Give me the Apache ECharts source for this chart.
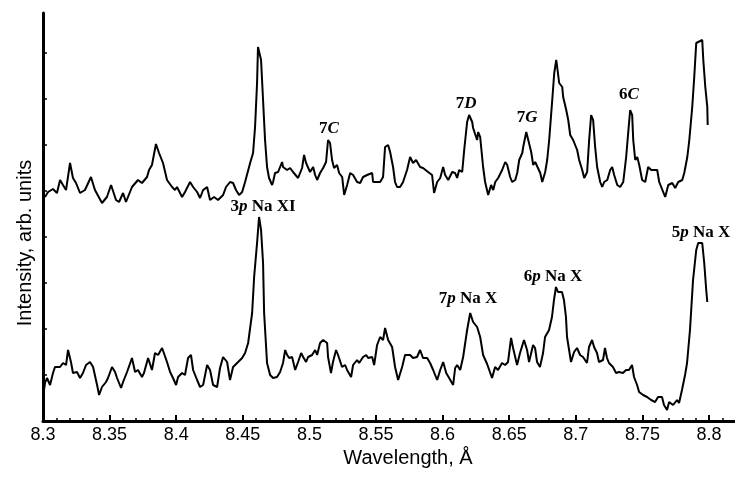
<!DOCTYPE html>
<html>
<head>
<meta charset="utf-8">
<script src="https://cdn.jsdelivr.net/npm/echarts@6/dist/echarts.min.js"></script>
<style>
  html, body { margin: 0; padding: 0; background: #fff; }
  #chart { width: 735px; height: 479px; }
</style>
</head>
<body>
<div id="chart"></div>
<script>
// upper spectrum (wavelength in Å, intensity in arb. units)
const topWavelength = [
  8.3015,8.3038,8.3075,8.3105,8.3128,8.3150,8.3173,8.3203,8.3225,8.3248,
  8.3278,8.3315,8.3360,8.3390,8.3443,8.3480,8.3511,8.3548,8.3571,8.3601,
  8.3623,8.3668,8.3713,8.3743,8.3781,8.3796,8.3818,8.3826,8.3848,8.3871,
  8.3901,8.3931,8.3969,8.3991,8.4006,8.4044,8.4066,8.4104,8.4127,8.4157,
  8.4179,8.4202,8.4232,8.4254,8.4284,8.4314,8.4352,8.4374,8.4404,8.4427,
  8.4449,8.4472,8.4495,8.4517,8.4555,8.4577,8.4592,8.4607,8.4614,8.4622,
  8.4637,8.4652,8.4667,8.4682,8.4697,8.4720,8.4727,8.4742,8.4765,8.4795,
  8.4802,8.4832,8.4855,8.4877,8.4892,8.4915,8.4945,8.4960,8.4975,8.4990,
  8.5005,8.5028,8.5043,8.5058,8.5080,8.5103,8.5125,8.5140,8.5155,8.5170,
  8.5185,8.5208,8.5223,8.5246,8.5261,8.5283,8.5306,8.5328,8.5358,8.5381,
  8.5403,8.5433,8.5441,8.5471,8.5478,8.5531,8.5553,8.5568,8.5591,8.5606,
  8.5628,8.5643,8.5658,8.5681,8.5703,8.5733,8.5756,8.5778,8.5801,8.5816,
  8.5831,8.5853,8.5891,8.5921,8.5936,8.5959,8.5982,8.6004,8.6019,8.6042,
  8.6072,8.6094,8.6109,8.6124,8.6147,8.6162,8.6184,8.6199,8.6222,8.6229,
  8.6259,8.6267,8.6282,8.6304,8.6319,8.6342,8.6364,8.6380,8.6395,8.6417,
  8.6447,8.6470,8.6485,8.6507,8.6522,8.6545,8.6560,8.6575,8.6598,8.6605,
  8.6628,8.6643,8.6665,8.6680,8.6695,8.6710,8.6733,8.6748,8.6770,8.6785,
  8.6800,8.6823,8.6838,8.6853,8.6860,8.6875,8.6898,8.6905,8.6928,8.6943,
  8.6958,8.6980,8.7010,8.7025,8.7048,8.7063,8.7085,8.7100,8.7115,8.7130,
  8.7145,8.7160,8.7183,8.7198,8.7213,8.7236,8.7258,8.7273,8.7288,8.7311,
  8.7333,8.7356,8.7378,8.7393,8.7408,8.7423,8.7431,8.7446,8.7461,8.7476,
  8.7498,8.7521,8.7543,8.7566,8.7581,8.7611,8.7626,8.7656,8.7671,8.7694,
  8.7724,8.7746,8.7769,8.7799,8.7814,8.7837,8.7852,8.7874,8.7889,8.7904,
  8.7919,8.7949,8.7957,8.7972,8.7987,8.7990
];
const topIntensity = [
  224,229,232,228,241,236,231,258,243,238,
  228,231,244,231,218,224,236,221,219,228,
  219,234,241,238,244,251,256,254,277,268,
  258,241,234,231,234,224,229,239,234,229,
  223,231,234,221,224,221,226,234,239,238,
  231,226,229,239,258,268,294,338,374,376,
  361,321,281,254,243,236,239,248,249,259,
  254,251,253,249,248,243,253,266,258,256,
  249,254,246,241,248,253,259,281,278,261,
  253,256,248,244,226,236,248,246,239,238,
  244,246,244,248,239,239,244,274,276,269,
  254,239,234,234,239,251,264,258,261,263,
  254,253,249,246,228,239,243,254,246,241,
  249,248,243,251,249,271,299,306,299,293,
  281,289,284,254,239,226,236,231,239,243,
  251,259,256,244,239,241,248,261,268,274,
  289,281,269,256,259,258,248,239,249,261,
  281,321,348,361,354,338,334,324,311,301,
  286,281,271,261,251,243,249,281,306,301,
  274,254,239,234,239,241,251,254,246,236,
  234,239,264,288,311,306,281,261,264,256,
  241,239,254,251,253,251,239,229,224,236,
  238,233,239,241,248,264,281,314,344,378,
  379,381,361,334,314,296
];

// lower spectrum
const bottomWavelength = [
  8.3000,8.3015,8.3030,8.3053,8.3075,8.3090,8.3128,8.3150,8.3173,8.3188,
  8.3210,8.3225,8.3255,8.3278,8.3300,8.3323,8.3353,8.3376,8.3406,8.3421,
  8.3443,8.3473,8.3488,8.3518,8.3541,8.3556,8.3586,8.3601,8.3631,8.3668,
  8.3691,8.3713,8.3743,8.3758,8.3789,8.3818,8.3841,8.3864,8.3894,8.3909,
  8.3931,8.3954,8.3976,8.3999,8.4014,8.4044,8.4066,8.4089,8.4111,8.4127,
  8.4157,8.4179,8.4202,8.4232,8.4254,8.4277,8.4307,8.4329,8.4352,8.4382,
  8.4404,8.4427,8.4457,8.4495,8.4517,8.4540,8.4570,8.4585,8.4607,8.4622,
  8.4637,8.4652,8.4660,8.4682,8.4705,8.4727,8.4757,8.4780,8.4802,8.4818,
  8.4833,8.4848,8.4870,8.4893,8.4915,8.4938,8.4953,8.4975,8.4990,8.5020,
  8.5043,8.5058,8.5080,8.5103,8.5133,8.5140,8.5162,8.5177,8.5200,8.5215,
  8.5245,8.5268,8.5283,8.5313,8.5328,8.5358,8.5373,8.5403,8.5426,8.5441,
  8.5471,8.5486,8.5508,8.5531,8.5553,8.5568,8.5591,8.5621,8.5643,8.5666,
  8.5696,8.5718,8.5756,8.5778,8.5808,8.5831,8.5853,8.5884,8.5906,8.5929,
  8.5959,8.5982,8.6004,8.6027,8.6049,8.6079,8.6094,8.6109,8.6132,8.6154,
  8.6184,8.6207,8.6229,8.6259,8.6282,8.6304,8.6334,8.6349,8.6371,8.6394,
  8.6416,8.6446,8.6469,8.6491,8.6514,8.6529,8.6559,8.6581,8.6611,8.6634,
  8.6649,8.6679,8.6694,8.6709,8.6731,8.6754,8.6769,8.6799,8.6821,8.6836,
  8.6851,8.6866,8.6896,8.6911,8.6926,8.6934,8.6964,8.6987,8.7009,8.7032,
  8.7054,8.7084,8.7099,8.7122,8.7137,8.7159,8.7174,8.7204,8.7219,8.7234,
  8.7249,8.7279,8.7302,8.7324,8.7354,8.7377,8.7399,8.7422,8.7437,8.7460,
  8.7475,8.7505,8.7535,8.7565,8.7595,8.7617,8.7647,8.7662,8.7685,8.7700,
  8.7730,8.7760,8.7775,8.7797,8.7820,8.7835,8.7857,8.7880,8.7904,8.7919,
  8.7949,8.7964,8.7979,8.7987
];
const bottomIntensity = [
  24,38,43,36,48,54,54,58,56,71,
  59,48,49,43,48,56,59,54,36,26,
  34,39,43,54,49,43,33,39,49,63,
  49,51,44,48,63,51,68,66,73,73,
  59,49,43,36,44,48,46,63,66,51,
  41,34,36,56,51,36,34,53,64,59,
  41,54,58,63,68,78,108,144,178,204,
  191,158,108,58,46,43,44,49,58,71,
  66,63,64,51,59,68,64,59,64,66,
  71,66,78,81,78,64,48,59,71,66,
  54,56,51,44,56,61,58,64,66,63,
  64,56,76,84,81,93,81,74,54,41,
  54,66,66,63,64,71,63,63,58,51,
  41,51,59,48,43,36,53,56,51,64,
  91,108,99,94,84,66,57,55,43,54,
  51,58,56,59,83,73,56,68,81,71,
  59,76,73,59,54,68,84,91,104,121,
  134,129,129,121,104,84,59,69,73,66,
  64,58,74,81,74,68,59,61,73,63,
  58,54,48,49,48,51,51,56,44,36,
  29,26,24,21,19,24,24,16,11,19,
  16,21,18,31,46,58,91,141,171,178,
  178,158,131,119
];

// axis ticks
const majorTicks = [8.3, 8.35, 8.4, 8.45, 8.5, 8.55, 8.6, 8.65, 8.7, 8.75, 8.8];
const minorTicks = [8.31,8.32,8.33,8.34,8.36,8.37,8.38,8.39,8.41,8.42,8.43,8.44,
  8.46,8.47,8.48,8.49,8.51,8.52,8.53,8.54,8.56,8.57,8.58,8.59,8.61,8.62,8.63,8.64,
  8.66,8.67,8.68,8.69,8.71,8.72,8.73,8.74,8.76,8.77,8.78,8.79,8.81];
const yTicks = [46, 92, 138, 184, 230, 276, 322, 368];

// line labels
const annoLabels = ['7C', '7D', '7G', '6C', '3p Na XI', '7p Na X', '6p Na X', '5p Na X'];
const annoX = [8.5147, 8.6176, 8.6634, 8.7399, 8.4652, 8.6191, 8.6829, 8.7940];
const annoY = [292, 317, 303, 326, 214, 122, 144, 188];

const ink = '#000';
const zip = (xs, ys) => xs.map((x, i) => [x, ys[i]]);

const chart = echarts.init(document.getElementById('chart'));

function labelText(s) {
    if (s.indexOf('Na') >= 0) {
        return '{b|' + s[0] + '}{bi|' + s[1] + '}{b|' + s.slice(2) + '}';
    }
    return '{b|' + s[0] + '}{bi|' + s.slice(1) + '}';
}

const option = {
    animation: false,
    backgroundColor: '#fff',
    grid: { left: 43, right: 0, top: 13, bottom: 58, outerBoundsMode: 'none' },
    xAxis: [
        {
            type: 'value',
            min: 8.3,
            max: 8.8195,
            name: 'Wavelength, Å',
            nameLocation: 'middle',
            nameGap: 24,
            nameTextStyle: { fontFamily: 'Liberation Sans', fontSize: 20, color: ink, padding: [0, 0, 0, 38] },
            axisLine: { onZero: false, lineStyle: { color: ink, width: 3 } },
            axisTick: { inside: true, length: 6, customValues: majorTicks, lineStyle: { color: ink, width: 2 } },
            axisLabel: {
                customValues: majorTicks,
                margin: 5,
                fontFamily: 'Liberation Sans',
                fontSize: 18,
                color: ink,
                formatter: v => String(v)
            },
            splitLine: { show: false }
        },
        {
            type: 'value',
            min: 8.3,
            max: 8.8195,
            position: 'bottom',
            axisLine: { show: false },
            axisLabel: { show: false },
            splitLine: { show: false },
            axisTick: { inside: true, length: 3, customValues: minorTicks, lineStyle: { color: ink, width: 1.5 } }
        }
    ],
    yAxis: {
        type: 'value',
        min: 0,
        max: 408,
        name: 'Intensity, arb. units',
        nameLocation: 'middle',
        nameRotate: 90,
        nameGap: 8,
        nameTextStyle: { fontFamily: 'Liberation Sans', fontSize: 20, color: ink, padding: [0, 52, 0, 0] },
        axisLine: { onZero: false, lineStyle: { color: ink, width: 3 } },
        axisTick: { inside: true, length: 4, customValues: yTicks, lineStyle: { color: ink, width: 1.5 } },
        axisLabel: { show: false },
        splitLine: { show: false }
    },
    series: [
        {
            name: 'upper',
            type: 'line',
            xAxisIndex: 0,
            data: zip(topWavelength, topIntensity),
            showSymbol: false,
            lineStyle: { color: ink, width: 2 }
        },
        {
            name: 'lower',
            type: 'line',
            xAxisIndex: 0,
            data: zip(bottomWavelength, bottomIntensity),
            showSymbol: false,
            lineStyle: { color: ink, width: 2 }
        },
        {
            name: 'labels',
            type: 'scatter',
            xAxisIndex: 0,
            silent: true,
            symbol: 'circle',
            symbolSize: 1,
            itemStyle: { color: '#fff', opacity: 1 },
            data: zip(annoX, annoY),
            label: {
                show: true,
                position: 'inside',
                color: ink,
                textBorderWidth: 0,
                formatter: p => labelText(annoLabels[p.dataIndex]),
                rich: {
                    b: { fontFamily: 'Liberation Serif', fontSize: 17, fontWeight: 'bold', color: ink },
                    bi: { fontFamily: 'Liberation Serif', fontSize: 17, fontWeight: 'bold', fontStyle: 'italic', color: ink }
                }
            }
        }
    ]
};
chart.setOption(option);
</script>
</body>
</html>
